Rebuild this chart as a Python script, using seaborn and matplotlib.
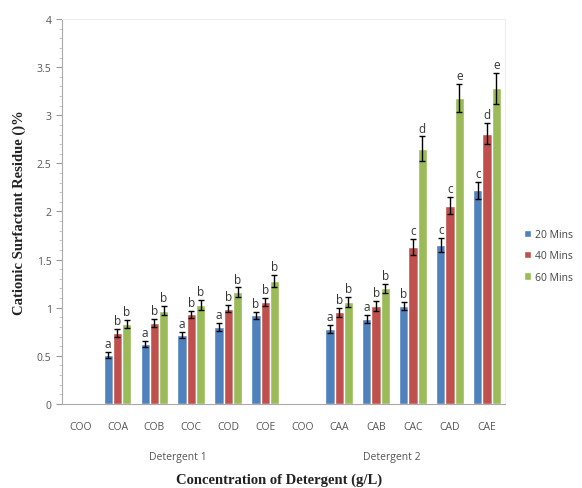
import numpy as np
import pandas as pd
import matplotlib
matplotlib.use("Agg")
import matplotlib.pyplot as plt
from matplotlib.ticker import MultipleLocator
import seaborn as sns

# data
categories = ["COO_1", "COA", "COB", "COC", "COD", "COE",
              "COO_2", "CAA", "CAB", "CAC", "CAD", "CAE"]
tick_labels = ["COO", "COA", "COB", "COC", "COD", "COE",
               "COO", "CAA", "CAB", "CAC", "CAD", "CAE"]
series = ["20 Mins", "40 Mins", "60 Mins"]

mins20 = [0, 0.51, 0.62, 0.72, 0.80, 0.92, 0, 0.78, 0.88, 1.02, 1.65, 2.22]
mins40 = [0, 0.74, 0.84, 0.93, 0.99, 1.06, 0, 0.95, 1.02, 1.63, 2.06, 2.81]
mins60 = [0, 0.83, 0.97, 1.03, 1.16, 1.28, 0, 1.06, 1.20, 2.65, 3.18, 3.28]

err20 = [0, 0.03, 0.03, 0.03, 0.04, 0.04, 0, 0.04, 0.04, 0.04, 0.07, 0.09]
err40 = [0, 0.04, 0.04, 0.04, 0.04, 0.04, 0, 0.05, 0.05, 0.08, 0.09, 0.11]
err60 = [0, 0.04, 0.05, 0.05, 0.05, 0.06, 0, 0.05, 0.05, 0.13, 0.15, 0.16]

let20 = ["", "a", "a", "a", "a", "b", "", "a", "a", "b", "c", "c"]
let40 = ["", "b", "b", "b", "b", "b", "", "b", "b", "c", "c", "d"]
let60 = ["", "b", "b", "b", "b", "b", "", "b", "b", "d", "e", "e"]

colors = ["#4F81BD", "#C0504D", "#9BBB59"]

df = pd.DataFrame({
    "cat": categories * 3,
    "time": np.repeat(series, len(categories)),
    "value": mins20 + mins40 + mins60,
})

sns.set_style("white")
plt.rcParams["font.family"] = ["Open Sans", "DejaVu Sans"]

fig = plt.figure(figsize=(5.82, 4.89), dpi=100)
ax = fig.add_axes([0.1065, 0.172, 0.762, 0.787])

sns.barplot(data=df, x="cat", y="value", hue="time", order=categories,
            hue_order=series, palette=colors, width=0.75, errorbar=None,
            saturation=1, ax=ax)

errs = [err20, err40, err60]
lets = [let20, let40, let60]
for cont, e, lt in zip(ax.containers, errs, lets):
    for bar, ev, l in zip(cont, e, lt):
        h = bar.get_height()
        if h == 0:
            continue
        xc = bar.get_x() + bar.get_width() / 2
        ax.errorbar(xc, h, yerr=ev, color="black", capsize=2.5, lw=1,
                    capthick=1)
        ax.text(xc, h + ev + 0.02, l, ha="center", va="bottom",
                fontsize=8.5, color="#333333")

ax.set_ylim(0, 4)
ax.set_yticks(np.arange(0, 4.01, 0.5))
ax.set_yticklabels(["0", "0.5", "1", "1.5", "2", "2.5", "3", "3.5", "4"])
ax.yaxis.set_minor_locator(MultipleLocator(0.1))
ax.set_xlim(-0.5, len(categories) - 0.5)
ax.set_xticks(range(len(categories)))
ax.set_xticklabels(tick_labels)
ax.tick_params(axis="both", labelsize=7.5, colors="#555555", length=0)
ax.tick_params(axis="y", which="major", length=4, color="#999999",
               direction="out", left=True)
ax.tick_params(axis="y", which="minor", length=2, color="#bbbbbb",
               direction="out", left=True)
ax.tick_params(axis="x", pad=12)

for s in ["top", "right"]:
    ax.spines[s].set_color("#eeeeee")
for s in ["left", "bottom"]:
    ax.spines[s].set_color("#aaaaaa")
for s in ax.spines.values():
    s.set_linewidth(0.8)

ax.set_xlabel("")
ax.set_ylabel("Cationic Surfactant Residue ()%", fontsize=10.5,
              fontweight="bold", family="Liberation Serif", color="#222222",
              labelpad=8)

fig.text(0.306, 0.065, "Detergent 1", ha="center", va="center",
         fontsize=7.5, color="#555555")
fig.text(0.674, 0.065, "Detergent 2", ha="center", va="center",
         fontsize=7.5, color="#555555")
fig.text(0.48, 0.018, "Concentration of Detergent (g/L)", ha="center",
         va="center", fontsize=10.5, fontweight="bold",
         family="Liberation Serif", color="#222222")

ax.legend(loc="center left", bbox_to_anchor=(1.02, 0.385), frameon=False,
          fontsize=7.5, handlelength=0.7, handleheight=0.7,
          handletextpad=0.4, labelspacing=1.0, labelcolor="#444444")

fig.savefig("out.png", dpi=100)
